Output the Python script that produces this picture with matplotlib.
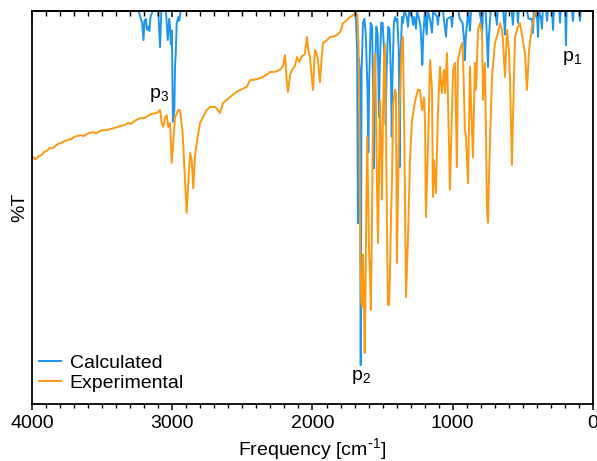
import matplotlib
matplotlib.use("Agg")
import matplotlib.pyplot as plt

plt.rcParams['font.family'] = ['Liberation Sans', 'DejaVu Sans']
plt.rcParams['mathtext.default'] = 'regular'

# ---------------- data ----------------
# Experimental spectrum: wavenumber [cm-1] and %T
exp_wavenumber = [
    3990, 3980, 3965, 3950, 3930, 3915, 3895, 3875, 3855, 3835, 3815, 3795, 3770, 3745,
    3720, 3700, 3675, 3655, 3630, 3610, 3590, 3565, 3540, 3515, 3490, 3465, 3440, 3415,
    3390, 3365, 3340, 3315, 3295, 3270, 3245, 3220, 3195, 3175, 3150, 3125, 3111, 3087,
    3075, 3064, 3052, 3040, 3028, 3015, 3004, 2993, 2980, 2957, 2945, 2926, 2909, 2897,
    2888, 2873, 2861, 2850, 2838, 2826, 2802, 2781, 2754, 2731, 2695, 2674, 2660, 2638,
    2588, 2540, 2469, 2446, 2400, 2353, 2320, 2303, 2270, 2232, 2210, 2196, 2185, 2175,
    2160, 2146, 2125, 2111, 2095, 2075, 2055, 2039, 2030, 2018, 2008, 1996, 1989, 1982,
    1970, 1961, 1953, 1947, 1935, 1925, 1900, 1875, 1850, 1825, 1800, 1783, 1760, 1733,
    1715, 1700,
    1690, 1680, 1672, 1666, 1660, 1652, 1645, 1640, 1634, 1628, 1622, 1616, 1610, 1604,
    1598, 1590, 1584, 1578, 1570, 1562, 1554, 1547, 1540, 1533, 1526, 1519, 1512, 1505,
    1498, 1490, 1483, 1476, 1469, 1462, 1455, 1448, 1440, 1433, 1426, 1412, 1405, 1398,
    1390, 1380, 1370, 1362, 1355, 1346, 1338, 1333, 1326, 1319, 1305, 1291, 1269, 1248,
    1234, 1219, 1205, 1198, 1191, 1177, 1162, 1148, 1141, 1134, 1120, 1105, 1091, 1077,
    1062, 1055, 1041, 1034, 1020, 1005, 998, 984, 970, 963, 948, 934, 927, 913,
    906, 891, 877, 870, 856, 842, 834, 820, 806, 791, 784, 770, 756, 749,
    742, 734, 720, 699, 677, 663, 649, 642, 628, 613, 599, 592, 578, 571,
    556, 535, 521, 506, 485, 471, 456, 435, 414, 400,
]
exp_transmittance = [
    62.8, 62.3, 62.6, 63.1, 63.4, 64.1, 64.4, 65.1, 65.1, 65.6, 66.2, 66.4, 66.9, 67.2,
    67.4, 68.0, 68.2, 68.4, 68.2, 68.7, 69.0, 69.2, 68.9, 69.5, 69.7, 69.7, 70.0, 70.2,
    70.5, 70.8, 71.0, 71.5, 71.3, 72.0, 72.5, 72.8, 72.8, 73.3, 73.8, 74.0, 74.0, 74.8,
    71.5, 70.5, 72.8, 73.5, 70.5, 71.5, 61.3, 66.4, 73.0, 74.8, 74.8, 69.0, 57.0, 48.6,
    54.9, 63.9, 62.1, 54.9, 62.8, 66.4, 71.5, 73.0, 74.8, 75.6, 75.6, 74.8, 74.0, 76.6,
    78.1, 79.5, 80.7, 82.4, 82.6, 83.2, 84.0, 84.5, 84.5, 85.0, 86.0, 88.8, 83.0, 79.4,
    83.7, 85.0, 86.0, 88.3, 87.0, 88.5, 89.0, 93.4, 90.0, 88.3, 84.0, 79.9, 86.0, 90.1,
    89.0, 87.5, 84.0, 81.9, 88.0, 91.9, 92.5, 93.4, 93.5, 93.9, 94.8, 96.9, 97.5, 98.5,
    98.8, 99.3,
    99.5, 99.0, 92.0, 70.0, 40.0, 26.0, 24.7, 38.0, 28.0, 13.0, 28.0, 52.0, 67.9, 55.0,
    41.0, 33.0, 24.0, 40.0, 68.0, 86.0, 89.1, 75.0, 55.0, 41.0, 60.0, 77.1, 68.0, 52.0,
    72.0, 88.0, 91.6, 70.0, 45.0, 25.2, 25.2, 32.0, 48.0, 57.0, 75.6, 80.0, 79.1, 35.9,
    55.0, 75.0, 85.0, 92.0, 93.4, 70.0, 45.0, 27.2, 35.0, 42.5, 62.0, 72.0, 77.0, 80.0,
    79.9, 74.8, 78.0, 72.0, 47.6, 64.6, 87.5, 80.0, 52.7, 62.0, 53.7, 74.8, 85.8, 79.1,
    85.0, 79.1, 89.3, 77.4, 54.5, 74.8, 85.0, 86.8, 60.3, 87.5, 90.1, 91.9, 88.8, 69.7,
    68.0, 56.2, 85.8, 77.4, 62.8, 86.8, 80.0, 95.2, 96.9, 94.4, 77.4, 86.8, 49.4, 46.1,
    57.0, 67.2, 83.2, 91.9, 94.4, 96.9, 95.2, 92.6, 83.2, 95.2, 90.0, 83.2, 60.8, 72.3,
    93.4, 96.0, 96.9, 93.9, 89.3, 79.9, 90.1, 95.9, 99.5, 99.5,
]

# Calculated spectrum: wavenumber [cm-1] and %T
calc_wavenumber = [
    4000, 3240, 3215, 3205, 3198, 3188, 3180, 3172, 3163, 3155, 3140, 3100, 3087, 3078,
    3045, 3032, 3022, 3015, 3010, 3003, 2998, 2995, 2990, 2985, 2980, 2975, 2968, 2955,
    2950, 2940,
    1720, 1700, 1690, 1682, 1676, 1670, 1663, 1656, 1650, 1640, 1630, 1620, 1608, 1602,
    1596, 1585, 1575, 1568, 1562, 1556, 1545, 1535, 1530, 1526, 1521, 1510, 1500, 1490,
    1483, 1478, 1472, 1460, 1450, 1440, 1435, 1430, 1420, 1410, 1402, 1395, 1385, 1378,
    1372, 1362, 1355, 1345, 1328, 1319, 1310, 1290, 1283, 1275, 1262, 1255, 1240, 1230,
    1224, 1217, 1210, 1198, 1186, 1178, 1160, 1148, 1140, 1112, 1105, 1098, 1070, 1060,
    1048, 1040, 1012, 1005, 998, 960, 950, 930, 918, 913, 908, 890, 877, 870,
    810, 800, 791, 784, 765, 755, 749, 743, 730, 700, 690, 685, 680, 640,
    633, 628, 622, 580, 571, 565, 540, 535, 530, 470, 460, 435, 428, 422,
    398, 392, 386, 370, 364, 358, 334, 328, 322, 292, 285, 279, 240, 235,
    230, 198, 193, 188, 150, 143, 138, 98, 93, 88, 0,
]
calc_transmittance = [
    100, 100, 97.0, 92.6, 97.5, 98.0, 95.2, 96.0, 94.9, 98.5, 100, 100, 90.8, 100,
    100, 92.6, 98.0, 96.0, 91.5, 95.0, 80.0, 71.8, 73.0, 75.0, 86.0, 89.3, 97.0, 98.5,
    97.5, 100,
    100, 100, 98.0, 90.0, 46.0, 88.0, 85.0, 9.9, 85.0, 97.0, 98.0, 94.0, 80.0, 64.0,
    82.0, 97.0, 96.0, 80.0, 60.0, 80.0, 96.0, 94.0, 82.0, 73.0, 85.0, 97.0, 97.0, 90.0,
    80.0, 71.0, 85.0, 96.0, 95.0, 82.0, 68.0, 83.0, 97.0, 98.5, 97.5, 98.0, 90.0, 60.3,
    88.0, 98.5, 97.0, 100, 98.5, 96.0, 100, 98.5, 96.5, 98.5, 95.5, 100, 98.0, 96.0,
    92.0, 86.3, 94.0, 100, 94.0, 100, 97.5, 94.5, 100, 98.5, 96.5, 100, 100, 97.0,
    93.5, 98.0, 98.5, 96.0, 100, 100, 98.0, 97.0, 92.0, 87.5, 93.0, 100, 95.0, 100,
    100, 98.0, 94.0, 100, 100, 92.0, 85.8, 93.0, 100, 100, 98.0, 96.5, 100, 100,
    97.0, 94.0, 100, 100, 96.5, 100, 100, 97.0, 100, 100, 98.0, 98.0, 94.4, 100,
    98.0, 93.4, 100, 98.0, 95.5, 100, 100, 97.5, 100, 100, 95.2, 100, 100, 97.0,
    100, 100, 91.3, 100, 100, 97.5, 100, 100, 97.5, 100, 100,
]

series_labels = ["Calculated", "Experimental"]
series_colors = ["#1E96F0", "#FF9912"]

peak_labels = ["p$_1$", "p$_2$", "p$_3$"]
peak_label_x = [150, 1654, 3094]
peak_label_y = [88.0, 6.9, 78.6]

x_ticks = [4000, 3000, 2000, 1000, 0]
FS = 14

# ---------------- figure ----------------
fig = plt.figure(figsize=(5.97, 4.61), dpi=100)
ax = fig.add_axes([0.0536, 0.1236, 0.9397, 0.8525])

ax.plot(calc_wavenumber, calc_transmittance, color=series_colors[0], lw=1.4,
        label=series_labels[0], zorder=2)
ax.plot(exp_wavenumber, exp_transmittance, color=series_colors[1], lw=1.4,
        label=series_labels[1], zorder=2.2)

for txt, px, py in zip(peak_labels, peak_label_x, peak_label_y):
    ax.text(px, py, txt, fontsize=FS, ha='center', va='center', zorder=4)

ax.set_xlim(4000, 0)
ax.set_ylim(0, 100)
ax.set_xticks(x_ticks)
ax.set_xticklabels([str(t) for t in x_ticks])
ax.set_xticks(range(0, 4001, 100), minor=True)
ax.set_yticks([])
ax.tick_params(axis='x', which='major', direction='out', length=4.5, width=1.1,
               labelsize=FS, pad=3.5)
ax.tick_params(axis='x', which='minor', direction='out', length=3, width=1.0)

top = ax.secondary_xaxis('top')
top.set_xticks(x_ticks)
top.set_xticks(range(0, 4001, 100), minor=True)
top.tick_params(axis='x', which='major', direction='in', length=4.5, width=1.1,
                labeltop=False)
top.tick_params(axis='x', which='minor', direction='in', length=3.5, width=1.0)
top.set_xticklabels([])
top.spines['top'].set_linewidth(1.3)
top.set_zorder(3)

for s in ax.spines.values():
    s.set_linewidth(1.3)
    s.set_zorder(3)

ax.set_xlabel("Frequency [cm$^{\\text{-}1}$]", fontsize=FS, labelpad=3)
ax.set_ylabel("%T", fontsize=FS, labelpad=3)

ax.legend(loc='lower left', bbox_to_anchor=(0.012, 0.03), frameon=False,
          fontsize=FS, handlelength=1.15, handletextpad=0.45,
          labelspacing=0.15, borderpad=0, borderaxespad=0)

fig.savefig("out.png", dpi=100)
